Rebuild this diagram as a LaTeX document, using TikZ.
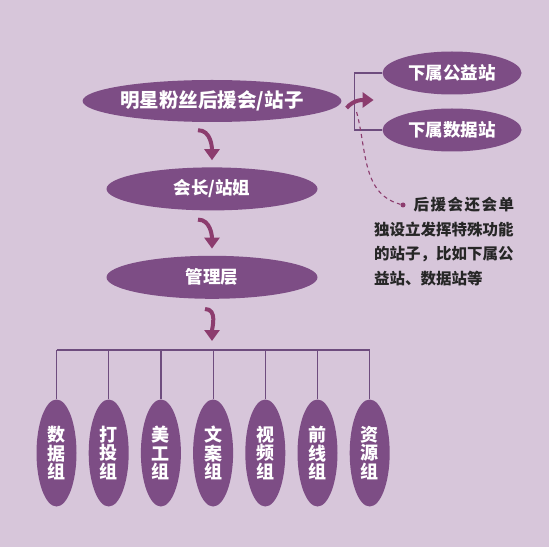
\documentclass[tikz,border=0pt]{standalone}
\usepackage{fontspec}
\newfontfamily\cjk{Noto Sans CJK SC}
\usetikzlibrary{shapes.geometric, arrows.meta, positioning}
\definecolor{bgpurple}{HTML}{D7C6DA}
\definecolor{ovpurple}{HTML}{7D4D85}
\definecolor{arrpurple}{HTML}{8C3C6E}
\definecolor{linepurple}{HTML}{6E4C7E}
\tikzset{
  oval/.style={ellipse,fill=ovpurple,text=white,inner sep=0pt,
    minimum width=211pt,minimum height=43pt,font=\cjk\bfseries\fontsize{17.5}{17.5}\selectfont},
  suboval/.style={oval,minimum width=139pt},
  grp/.style={oval,minimum width=40pt,minimum height=107pt,align=center,
    font=\cjk\bfseries\fontsize{18}{18.5}\selectfont},
  link/.style={draw=linepurple,line width=1.2pt},
  curvearrow/.style={draw=arrpurple,line width=4pt,-{Triangle[length=11pt,width=15pt]}},
  dot/.style={circle,fill=arrpurple,inner sep=0pt,minimum size=5pt},
}

\begin{document}
\begin{tikzpicture}[x=1pt,y=1pt]
    \fill[bgpurple] (0,0) rectangle (549,547);
    \useasboundingbox (0,0) rectangle (549,547);
    % main chain
    \node[oval, minimum height=42pt, font=\cjk\bfseries\fontsize{19.5}{19.5}\selectfont] (fans) at (212,446) {明星粉丝后援会/站子};
    \node[oval, below=45pt of fans] (chief) {会长/站姐};
    \node[oval, below=45pt of chief] (admin) {管理层};
    \node[suboval] (charity) at (452,474) {下属公益站};
    \node[suboval] (data) at (452,417) {下属数据站};
    % groups
    \foreach \txt [count=\i from 0] in {数\\据\\组, 打\\投\\组, 美\\工\\组, 文\\案\\组, 视\\频\\组, 前\\线\\组, 资\\源\\组}
        \node[grp] (g\i) at (56.5+52.2*\i,94) {\txt};
    \coordinate (bus) at (0,197);
    \draw[link] (g0.north |- bus) -- (g6.north |- bus);
    \foreach \i in {0,...,6}
        \draw[link] (g\i.north) -- (g\i.north |- bus);
    % sub stations
    \draw[link] (charity.west) -- ++(-28pt,0) |- (data.west);
    % arrows
    \draw[curvearrow] ([xshift=-14pt,yshift=-8pt]fans.south) to[out=0,in=90] ([yshift=7pt]chief.north);
    \draw[curvearrow] ([xshift=-14pt,yshift=-9pt]chief.south) to[out=0,in=90] ([yshift=7pt]admin.north);
    \draw[curvearrow] ([xshift=-7pt,yshift=-10pt]admin.south) to[out=0,in=90] ([yshift=9pt]admin.south |- bus);
    \draw[curvearrow] ([xshift=5pt,yshift=-7pt]fans.east) to[out=50,in=180] ([xshift=32pt,yshift=1pt]fans.east);
    % note
    \node[dot] (mark) at (403,342) {};
    \draw[arrpurple, line width=1.1pt, dash pattern=on 4pt off 3.5pt] ([xshift=15pt,yshift=-11pt]fans.east) to[out=-75,in=165] (mark);
    \node[anchor=north west, inner sep=0pt, align=left, text=black!85,
          font=\cjk\bfseries\fontsize{15.5}{24.5}\selectfont] (note) at (374,350)
        {\makebox[140pt][r]{后\kern1.5pt 援\kern1.5pt 会\kern1.5pt 还\kern1.5pt 会\kern1.5pt 单}\\
         独设立发挥特殊功能\\
         的站子，比如下属公\\
         益站、数据站等};
\end{tikzpicture}
\end{document}
